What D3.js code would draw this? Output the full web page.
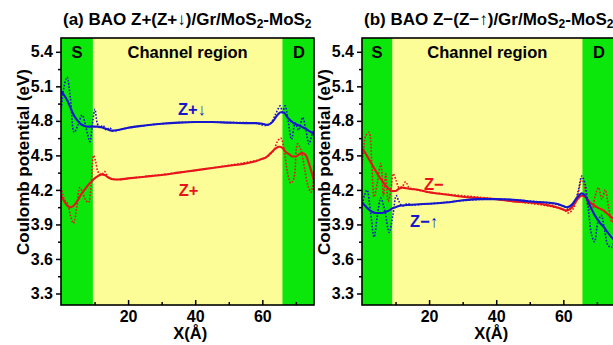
<!DOCTYPE html>
<html>
<head>
<meta charset="utf-8">
<script src="https://cdn.jsdelivr.net/npm/d3@7"></script>
<style>
  html, body { margin: 0; padding: 0; background: #fff; }
  svg { display: block; font-family: "Liberation Sans", Arial, sans-serif; font-weight: bold; }
</style>
</head>
<body>
<svg id="chart" width="613" height="345"></svg>
<script>
// ---- axis settings ----
const xDomain = [0, 75.4];
const yDomain = [3.2, 5.52];
const yTickValues = [3.3, 3.6, 3.9, 4.2, 4.5, 4.8, 5.1, 5.4];
const yMinorValues = [3.45, 3.75, 4.05, 4.35, 4.65, 4.95, 5.25];
const xTickValues = [20, 40, 60];
const xMinorValues = [10, 30, 50, 70];

// ---- electrode regions (Å) ----
const sourceEnd = [9.5, 9.0];
const drainStart = [66.0, 65.7];

// ---- panel (a): Z+ (red) and Z+↓ (blue) ----
const aBlueAvgX = [0, 1, 2, 3, 4, 5, 6, 7, 8, 9, 10, 11, 12, 13, 14, 15, 17, 20, 25, 30, 35, 40, 45, 50, 55, 58, 60, 61.5, 63, 64.5, 65.5, 66.5, 67.5, 68.5, 70, 71, 72, 73, 74, 75.4];
const aBlueAvgY = [5.06, 5.02, 4.97, 4.90, 4.84, 4.80, 4.77, 4.755, 4.75, 4.75, 4.75, 4.75, 4.745, 4.735, 4.725, 4.715, 4.72, 4.74, 4.76, 4.775, 4.785, 4.79, 4.79, 4.785, 4.78, 4.78, 4.775, 4.765, 4.79, 4.85, 4.875, 4.87, 4.83, 4.80, 4.77, 4.76, 4.745, 4.73, 4.71, 4.685];

const aBlueRawX = [0, 0.8, 1.8, 2.8, 3.9, 5, 6.3, 7.4, 8.6, 9.4, 10.1, 10.8, 11.5, 12.5, 13.5, 14.5, 15.5, 17, 20, 30, 40, 50, 58, 61, 62.5, 64, 65.3, 66, 66.8, 67.7, 68.7, 69.8, 70.8, 72, 73, 73.9, 75, 75.4];
const aBlueRawY = [4.88, 5.08, 5.18, 5.00, 4.70, 4.76, 4.85, 4.75, 4.62, 4.78, 4.90, 4.78, 4.74, 4.76, 4.72, 4.74, 4.71, 4.72, 4.74, 4.775, 4.79, 4.785, 4.78, 4.76, 4.78, 4.86, 4.93, 4.88, 4.93, 4.80, 4.64, 4.78, 4.72, 4.83, 4.72, 4.60, 4.70, 4.72];

const aRedAvgX = [0, 1, 2, 3, 4, 5, 6, 7, 8, 9, 10, 11, 12, 13, 14, 15, 17, 20, 25, 30, 35, 40, 45, 50, 55, 58, 60, 61, 62.5, 64, 65, 66, 67, 68, 69, 70, 71, 72, 73, 74, 75.4];
const aRedAvgY = [4.15, 4.10, 4.06, 4.05, 4.07, 4.11, 4.16, 4.20, 4.24, 4.27, 4.30, 4.32, 4.335, 4.33, 4.31, 4.295, 4.29, 4.30, 4.315, 4.33, 4.35, 4.37, 4.39, 4.41, 4.43, 4.45, 4.47, 4.48, 4.52, 4.56, 4.575, 4.565, 4.53, 4.51, 4.49, 4.49, 4.51, 4.52, 4.50, 4.42, 4.28];

const aRedRawX = [0, 1, 2, 2.8, 3.7, 4.7, 5.6, 6.4, 7.2, 8.2, 9, 9.7, 10.3, 11, 12, 13, 14, 15, 17, 20, 40, 60, 62, 63.5, 64.5, 65.5, 66.5, 67.5, 68.5, 69.4, 70.5, 71.5, 72.5, 73.5, 74.5, 75.4];
const aRedRawY = [4.22, 4.12, 4.08, 3.98, 3.91, 4.05, 4.22, 4.18, 4.12, 4.09, 4.25, 4.50, 4.45, 4.36, 4.33, 4.36, 4.31, 4.30, 4.29, 4.30, 4.37, 4.47, 4.50, 4.55, 4.62, 4.65, 4.55, 4.35, 4.26, 4.30, 4.60, 4.55, 4.40, 4.25, 4.18, 4.32];

// ---- panel (b): Z− (red) and Z−↑ (blue) ----
const bRedAvgX = [0, 1, 2, 3, 4, 5, 6, 7, 8, 9, 10, 11, 12, 14, 17, 20, 25, 30, 35, 40, 45, 50, 55, 58, 60, 61, 62.5, 64, 65.5, 66.5, 68, 70, 72, 74, 75.4];
const bRedAvgY = [4.56, 4.52, 4.47, 4.42, 4.37, 4.32, 4.28, 4.24, 4.21, 4.19, 4.19, 4.21, 4.22, 4.21, 4.20, 4.18, 4.16, 4.14, 4.13, 4.12, 4.10, 4.09, 4.07, 4.05, 4.03, 4.02, 4.05, 4.11, 4.15, 4.14, 4.09, 4.05, 4.02, 3.97, 3.94];

const bBlueAvgX = [0, 1, 2, 3, 4, 5, 6, 7, 8, 9, 10, 11, 12, 14, 17, 20, 25, 30, 35, 40, 45, 50, 55, 58, 60, 61, 62.5, 64, 65.5, 66.5, 68, 69, 70, 71, 72, 73, 74, 75.4];
const bBlueAvgY = [4.09, 4.06, 4.03, 4.01, 4.00, 4.00, 4.00, 4.01, 4.02, 4.04, 4.05, 4.06, 4.065, 4.07, 4.075, 4.08, 4.09, 4.11, 4.12, 4.12, 4.115, 4.10, 4.09, 4.08, 4.06, 4.05, 4.07, 4.13, 4.17, 4.15, 4.06, 4.00, 3.95, 3.91, 3.88, 3.84, 3.80, 3.76];

const bBlueRawX = [0, 0.7, 1.5, 2.5, 3.6, 4.6, 5.6, 6.8, 8.1, 9.2, 10.2, 11, 12, 13.5, 15, 20, 40, 60, 61.5, 63, 64.5, 65.5, 66.5, 67.5, 68.5, 69.3, 70.3, 71.3, 72.3, 73.3, 74.3, 75.4];
const bBlueRawY = [4.05, 4.15, 4.20, 4.02, 3.79, 3.98, 4.13, 4.02, 3.83, 3.98, 4.15, 4.10, 4.06, 4.08, 4.07, 4.08, 4.12, 4.06, 4.03, 4.06, 4.20, 4.32, 4.25, 4.02, 3.80, 3.75, 3.92, 3.98, 3.85, 3.72, 3.70, 3.78];

const bRedRawX = [0, 0.5, 1.1, 2.1, 2.9, 3.6, 4.5, 5.6, 6.4, 7.1, 7.8, 8.6, 9.3, 10.2, 11, 12, 13, 14, 15, 20, 40, 60, 61.5, 63, 64.5, 65.5, 66.5, 67.5, 68.5, 69.5, 70.5, 71.5, 72.5, 73.5, 74.5, 75.4];
const bRedRawY = [4.40, 4.55, 4.67, 4.70, 4.45, 4.14, 4.25, 4.43, 4.15, 4.34, 4.10, 4.20, 4.34, 4.28, 4.22, 4.23, 4.27, 4.22, 4.21, 4.18, 4.12, 4.03, 4.00, 4.04, 4.18, 4.30, 4.20, 4.05, 4.02, 4.15, 4.22, 4.12, 4.20, 4.05, 3.92, 3.96];

// ---- text ----
const titles = [
  ["(a) BAO Z+(Z+↓)/Gr/MoS", "2", "-MoS", "2"],
  ["(b) BAO Z−(Z−↑)/Gr/MoS", "2", "-MoS", "2"]
];
const seriesLabels = [
  [{ text: "Z+↓", x: 39, y: 4.85, color: "blue" }, { text: "Z+", x: 38, y: 4.15, color: "red" }],
  [{ text: "Z−", x: 21.4, y: 4.2, color: "red" }, { text: "Z−↑", x: 18.5, y: 3.88, color: "blue" }]
];

const colors = { red: "#e8141c", blue: "#1616cc", green: "#0be60b", yellow: "#fdfd98" };

const svg = d3.select("#chart");

const panels = [
  { left: 61, top: 38, right: 314, bottom: 305,
    series: [
      { x: aBlueRawX, y: aBlueRawY, color: "blue", raw: true },
      { x: aRedRawX, y: aRedRawY, color: "red", raw: true },
      { x: aBlueAvgX, y: aBlueAvgY, color: "blue", raw: false },
      { x: aRedAvgX, y: aRedAvgY, color: "red", raw: false }
    ] },
  { left: 362, top: 38, right: 615, bottom: 305,
    series: [
      { x: bRedRawX, y: bRedRawY, color: "red", raw: true },
      { x: bBlueRawX, y: bBlueRawY, color: "blue", raw: true },
      { x: bRedAvgX, y: bRedAvgY, color: "red", raw: false },
      { x: bBlueAvgX, y: bBlueAvgY, color: "blue", raw: false }
    ] }
];

panels.forEach((p, i) => {
  const x = d3.scaleLinear().domain(xDomain).range([p.left, p.right]);
  const y = d3.scaleLinear().domain(yDomain).range([p.bottom, p.top]);
  const g = svg.append("g");

  const clipId = "clip" + i;
  g.append("clipPath").attr("id", clipId)
    .append("rect").attr("x", p.left).attr("y", p.top)
    .attr("width", p.right - p.left).attr("height", p.bottom - p.top);

  // background: channel (yellow), source and drain (green)
  g.append("rect").attr("x", p.left).attr("y", p.top)
    .attr("width", p.right - p.left).attr("height", p.bottom - p.top)
    .attr("fill", colors.yellow);
  g.append("rect").attr("x", x(xDomain[0])).attr("y", p.top)
    .attr("width", x(sourceEnd[i]) - x(xDomain[0])).attr("height", p.bottom - p.top)
    .attr("fill", colors.green);
  g.append("rect").attr("x", x(drainStart[i])).attr("y", p.top)
    .attr("width", x(xDomain[1]) - x(drainStart[i])).attr("height", p.bottom - p.top)
    .attr("fill", colors.green);

  // region names
  const regionFont = 16.5;
  g.append("text").attr("x", x(sourceEnd[i] / 2)).attr("y", 58)
    .attr("text-anchor", "middle").attr("font-size", regionFont).text("S");
  g.append("text").attr("x", x((sourceEnd[i] + drainStart[i]) / 2)).attr("y", 58)
    .attr("text-anchor", "middle").attr("font-size", regionFont).text("Channel region");
  g.append("text").attr("x", x(drainStart[i] + 4.9)).attr("y", 58)
    .attr("text-anchor", "middle").attr("font-size", regionFont).text("D");

  // curves
  const plot = g.append("g").attr("clip-path", `url(#${clipId})`);
  p.series.forEach(s => {
    const pts = s.x.map((v, k) => [v, s.y[k]]);
    const line = d3.line()
      .x(d => x(d[0])).y(d => y(d[1]))
      .curve(s.raw ? d3.curveCatmullRom.alpha(0.5) : d3.curveMonotoneX);
    plot.append("path").datum(pts)
      .attr("d", line)
      .attr("fill", "none")
      .attr("stroke", colors[s.color])
      .attr("stroke-width", s.raw ? 1.6 : 2.1)
      .attr("stroke-dasharray", s.raw ? "1.6,1.6" : null)
      .attr("stroke-linejoin", "round");
  });

  // series labels
  seriesLabels[i].forEach(l => {
    g.append("text").attr("x", x(l.x)).attr("y", y(l.y))
      .attr("text-anchor", "middle").attr("font-size", 16.5)
      .attr("fill", colors[l.color]).text(l.text);
  });

  // frame
  g.append("rect").attr("x", p.left).attr("y", p.top)
    .attr("width", p.right - p.left).attr("height", p.bottom - p.top)
    .attr("fill", "none").attr("stroke", "#000").attr("stroke-width", 1.6);

  // y axis: ticks point outward
  g.append("g").attr("transform", `translate(${p.left},0)`)
    .call(d3.axisLeft(y).tickValues(yTickValues).tickFormat(d3.format(".1f"))
      .tickSize(5).tickPadding(3).tickSizeOuter(0));
  g.append("g").attr("transform", `translate(${p.left},0)`)
    .call(d3.axisLeft(y).tickValues(yMinorValues).tickFormat("").tickSize(3).tickSizeOuter(0));

  // x axis: ticks point inward
  g.append("g").attr("transform", `translate(0,${p.bottom})`)
    .call(d3.axisBottom(x).tickValues(xTickValues).tickFormat(d3.format("d"))
      .tickSizeInner(-5).tickPadding(6).tickSizeOuter(0));
  g.append("g").attr("transform", `translate(0,${p.bottom})`)
    .call(d3.axisBottom(x).tickValues(xMinorValues).tickFormat("").tickSizeInner(-3).tickSizeOuter(0));

  g.selectAll(".domain").remove();
  g.selectAll(".tick line").attr("stroke", "#000").attr("stroke-width", 1.5);
  g.selectAll(".tick text").attr("font-size", 16).attr("font-weight", "bold")
    .attr("font-family", "'Liberation Sans', Arial, sans-serif").attr("fill", "#000");

  // axis titles
  g.append("text").attr("x", x(40) - 5).attr("y", 339)
    .attr("text-anchor", "middle").attr("font-size", 16.5).text("X(Å)");
  g.append("text")
    .attr("transform", `translate(${p.left - 32},162) rotate(-90)`)
    .attr("text-anchor", "middle")
    .attr("font-size", 17).text("Coulomb potential (eV)");

  // panel title with subscripts
  const t = svg.append("text").attr("x", p.left + 2).attr("y", 25).attr("font-size", 17);
  t.append("tspan").text(titles[i][0]);
  t.append("tspan").attr("font-size", 12).attr("dy", 3).text(titles[i][1]);
  t.append("tspan").attr("dy", -3).text(titles[i][2]);
  t.append("tspan").attr("font-size", 12).attr("dy", 3).text(titles[i][3]);
});
</script>
</body>
</html>
